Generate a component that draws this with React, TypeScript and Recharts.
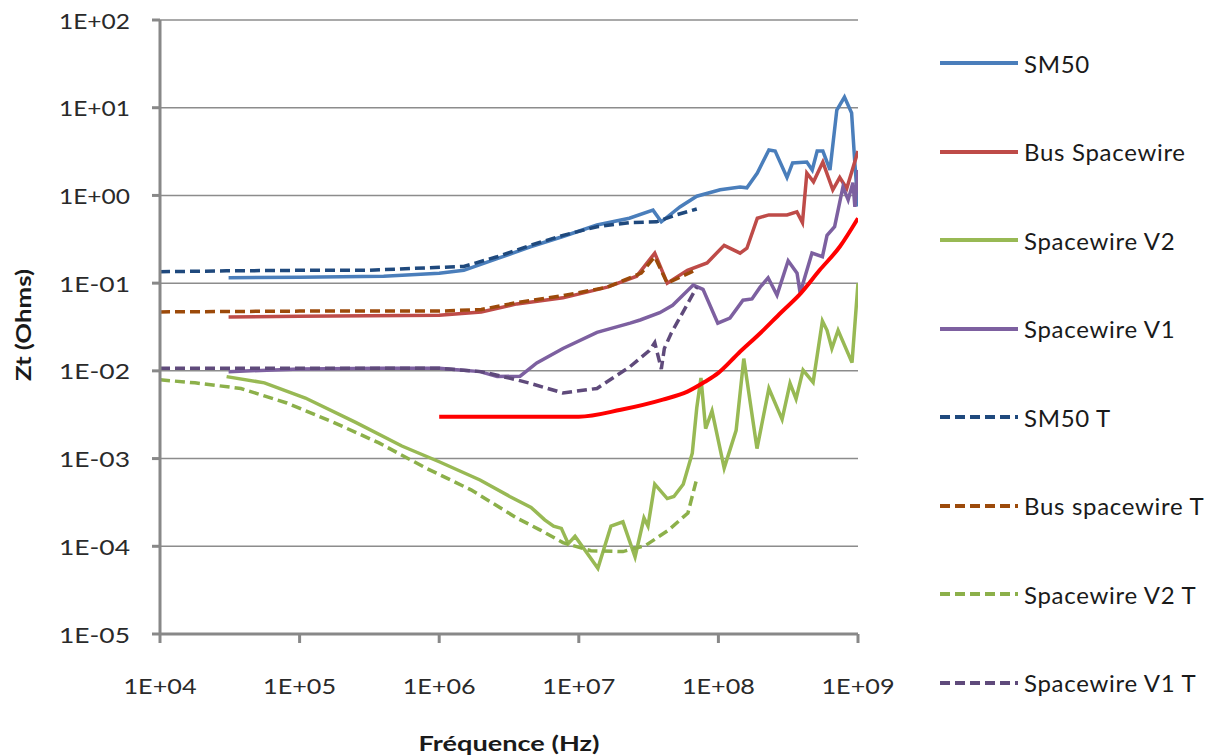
import React from 'react';
import { LineChart, Line, XAxis, YAxis, CartesianGrid, Legend, Label } from 'recharts';

// Frequency (Hz), Zt (Ohms) pairs
const SM50: [number, number][] = [
  [3.1e4, 0.115], [1e5, 0.117], [4e5, 0.12], [1e6, 0.13], [1.5e6, 0.14], [2.6e6, 0.19],
  [4.5e6, 0.26], [7.7e6, 0.34], [1.35e7, 0.46], [2.3e7, 0.55], [3.4e7, 0.68], [3.9e7, 0.5],
  [5.3e7, 0.74], [7e7, 0.98], [1.03e8, 1.16], [1.43e8, 1.25], [1.6e8, 1.22], [1.9e8, 1.8],
  [2.3e8, 3.3], [2.55e8, 3.2], [3.1e8, 1.6], [3.4e8, 2.35], [4.3e8, 2.4], [4.7e8, 1.95],
  [5.1e8, 3.2], [5.6e8, 3.2], [6.3e8, 1.95], [7.05e8, 9.4], [8e8, 13.2], [9e8, 8.7],
  [9.5e8, 2.3], [1e9, 0.75],
];
const BUS: [number, number][] = [
  [3.1e4, 0.041], [1e5, 0.042], [1e6, 0.043], [2e6, 0.047], [3.6e6, 0.058], [7.7e6, 0.068],
  [1.6e7, 0.09], [2.6e7, 0.12], [3.5e7, 0.22], [4.3e7, 0.1], [6e7, 0.14], [8.3e7, 0.17],
  [1.1e8, 0.27], [1.43e8, 0.22], [1.6e8, 0.25], [1.9e8, 0.55], [2.3e8, 0.6], [3.1e8, 0.6],
  [3.65e8, 0.65], [4e8, 0.49], [4.3e8, 1.8], [4.8e8, 1.43], [5.6e8, 2.4], [6.6e8, 1.16],
  [7.4e8, 1.6], [8.3e8, 1.2], [1e9, 3.2],
];
const V2: [number, number][] = [
  [3e4, 0.0086], [5.6e4, 0.0073], [1.1e5, 0.0049], [2.5e5, 0.0026], [5.4e5, 0.00139],
  [1e6, 0.00092], [1.96e6, 0.00057], [3.2e6, 0.00037], [4.55e6, 0.000278], [5.7e6, 0.0002],
  [6.6e6, 0.00017], [7.5e6, 0.00016], [8.4e6, 0.000107], [9.4e6, 0.00013], [1.37e7, 0.000056],
  [1.7e7, 0.00017], [2.07e7, 0.00019], [2.53e7, 0.0000755], [2.93e7, 0.00021], [3.13e7, 0.00017],
  [3.5e7, 0.00051], [4.3e7, 0.00035], [4.8e7, 0.00037], [5.6e7, 0.00051], [6.5e7, 0.00115],
  [7e7, 0.0038], [7.5e7, 0.0083], [8.1e7, 0.0022], [9e7, 0.0035], [1.1e8, 0.00078],
  [1.34e8, 0.0021], [1.52e8, 0.0138], [1.89e8, 0.0013], [2.3e8, 0.0063], [2.86e8, 0.0028],
  [3.26e8, 0.0072], [3.6e8, 0.0048], [4.04e8, 0.0102], [4.77e8, 0.0074], [5.56e8, 0.037],
  [6e8, 0.029], [6.5e8, 0.018], [7.2e8, 0.029], [9.06e8, 0.0124], [1e9, 0.1],
];
const V1: [number, number][] = [
  [3.1e4, 0.0098], [1e5, 0.0105], [4e5, 0.0107], [1e6, 0.0107], [1.96e6, 0.0098],
  [2.6e6, 0.0086], [3.8e6, 0.0087], [5e6, 0.0123], [7.7e6, 0.018], [1.35e7, 0.0275],
  [2.33e7, 0.035], [2.75e7, 0.038], [3.8e7, 0.046], [4.7e7, 0.056], [6.6e7, 0.095],
  [7.76e7, 0.085], [9.9e7, 0.035], [1.21e8, 0.04], [1.5e8, 0.064], [1.74e8, 0.066],
  [1.99e8, 0.09], [2.27e8, 0.115], [2.63e8, 0.073], [3.16e8, 0.18], [3.66e8, 0.13],
  [3.85e8, 0.077], [4.68e8, 0.22], [5.56e8, 0.2], [6e8, 0.35], [6.8e8, 0.44],
  [7.8e8, 1.25], [8.5e8, 0.89], [9.2e8, 1.4], [9.5e8, 0.74], [1e9, 1.95],
];
const SM50_T: [number, number][] = [
  [1e4, 0.135], [3e4, 0.138], [1e5, 0.14], [3e5, 0.14], [8.6e5, 0.15], [1.5e6, 0.155],
  [2.6e6, 0.2], [4.5e6, 0.27], [7.7e6, 0.35], [1.35e7, 0.44], [2.3e7, 0.49], [3.6e7, 0.5],
  [5e7, 0.6], [7e7, 0.7],
];
const BUS_T: [number, number][] = [
  [1e4, 0.047], [1e5, 0.048], [1e6, 0.048], [2e6, 0.05], [3.6e6, 0.06], [7.7e6, 0.072],
  [1.6e7, 0.09], [2.8e7, 0.13], [3.5e7, 0.2], [4.3e7, 0.1], [6.8e7, 0.14],
];
const V2_T: [number, number][] = [
  [1e4, 0.0079], [1.78e4, 0.0073], [3.8e4, 0.0063], [8.1e4, 0.0043], [1.74e5, 0.0026],
  [3.7e5, 0.00151], [7.9e5, 0.00079], [1.69e6, 0.00044], [3.6e6, 0.00021], [5.3e6, 0.000153],
  [7.7e6, 0.00011], [1.22e7, 0.000089], [2.07e7, 0.000087], [3e7, 0.000102], [4.4e7, 0.000153],
  [6.05e7, 0.00024], [7e7, 0.00059],
];
const V1_T: [number, number][] = [
  [1e4, 0.0107], [1e5, 0.0107], [1e6, 0.0107], [2e6, 0.0098], [3.6e6, 0.0079],
  [4.5e6, 0.0072], [7.7e6, 0.0056], [1.35e7, 0.0063], [2.3e7, 0.011], [3.2e7, 0.017],
  [3.5e7, 0.021], [3.9e7, 0.0105], [4.1e7, 0.018], [4.6e7, 0.027], [5.5e7, 0.045], [7e7, 0.09],
];
const LIMIT: [number, number][] = [
  [1e6, 0.003], [1e7, 0.003], [2e7, 0.0036], [4e7, 0.0047], [6e7, 0.0058], [8e7, 0.0075],
  [1e8, 0.0095], [1.4e8, 0.016], [2e8, 0.027], [2.8e8, 0.046], [3.9e8, 0.077], [5.3e8, 0.14],
  [7.4e8, 0.26], [1e9, 0.55],
];

const X_TICKS = [1e4, 1e5, 1e6, 1e7, 1e8, 1e9];
const Y_TICKS = [1e-5, 1e-4, 1e-3, 1e-2, 1e-1, 1, 10, 100];

const toRows = (pairs: [number, number][]) => pairs.map(([f, z]) => ({ f, z }));

const SERIES = [
  { name: 'SM50', data: SM50, color: '#4A7EBB', dash: undefined as string | undefined },
  { name: 'Bus Spacewire', data: BUS, color: '#BE4B48', dash: undefined },
  { name: 'Spacewire V2', data: V2, color: '#98B954', dash: undefined },
  { name: 'Spacewire V1', data: V1, color: '#7D60A0', dash: undefined },
  { name: 'SM50 T', data: SM50_T, color: '#1F497D', dash: '10 5' },
  { name: 'Bus spacewire T', data: BUS_T, color: '#9C4A0A', dash: '10 5' },
  { name: 'Spacewire V2 T', data: V2_T, color: '#8CB04A', dash: '10 5' },
  { name: 'Spacewire V1 T', data: V1_T, color: '#5F4A7B', dash: '10 5' },
];

const FONT = 'Lato, "Open Sans", sans-serif';

const fmt = (v: number) => {
  const e = Math.round(Math.log10(v));
  return `1E${e < 0 ? '-' : '+'}${String(Math.abs(e)).padStart(2, '0')}`;
};

const YTick = (props: any) => (
  <text x={props.x} y={props.y} textAnchor="end" dominantBaseline="central" fontSize={21}
    fontFamily={FONT} fill="#2a2a2a" textLength={71} lengthAdjust="spacingAndGlyphs">
    {fmt(props.payload.value)}
  </text>
);
const XTick = (props: any) => (
  <text x={props.x} y={props.y} textAnchor="middle" dominantBaseline="central" fontSize={21}
    fontFamily={FONT} fill="#2a2a2a" textLength={73} lengthAdjust="spacingAndGlyphs">
    {fmt(props.payload.value)}
  </text>
);

const YTitle = (props: any) => {
  const vb = props.viewBox;
  const x = vb.x + 22;
  const y = vb.y + vb.height / 2 - 2;
  return (
    <text x={x} y={y} transform={`rotate(-90, ${x}, ${y})`} textAnchor="middle" dominantBaseline="central"
      fontSize={21} fontWeight="bold" fontFamily={FONT} fill="#1a1a1a" textLength={112} lengthAdjust="spacingAndGlyphs">
      Zt (Ohms)
    </text>
  );
};
const XTitle = (props: any) => {
  const vb = props.viewBox;
  return (
    <text x={vb.x + vb.width / 2} y={vb.y + 109} textAnchor="middle" dominantBaseline="central"
      fontSize={20} fontWeight="bold" fontFamily={FONT} fill="#1a1a1a" textLength={181} lengthAdjust="spacingAndGlyphs">
      Fréquence (Hz)
    </text>
  );
};

const LegendContent = () => (
  <div style={{ fontFamily: FONT }}>
    {SERIES.map((s) => (
      <div key={s.name} style={{ height: 88.5, display: 'flex', alignItems: 'center' }}>
        <svg width={80} height={10} style={{ display: 'block' }}>
          <line x1={1} y1={5} x2={79} y2={5} stroke={s.color} strokeWidth={4}
            strokeDasharray={s.dash} strokeLinecap="butt" />
        </svg>
        <span style={{ marginLeft: 5, fontSize: 24, color: '#1a1a1a', whiteSpace: 'nowrap', letterSpacing: 0.7 }}>{s.name}</span>
      </div>
    ))}
  </div>
);

export default function App() {
  return (
    <div style={{ position: 'absolute', left: 0, top: 0, width: 1212, height: 755, background: '#fff' }}>
      <LineChart width={1212} height={755} margin={{ top: 20, right: 354, bottom: 0, left: 0 }}>
        <CartesianGrid vertical={false} stroke="#8c8c8c" strokeWidth={1.5} />
        <XAxis dataKey="f" type="number" scale="log" domain={[1e4, 1e9]} ticks={X_TICKS} interval={0}
          allowDataOverflow height={121} tickSize={9} tickMargin={42} tick={<XTick />}
          axisLine={{ stroke: '#888888', strokeWidth: 3 }} tickLine={{ stroke: '#888888', strokeWidth: 3 }}>
          <Label content={<XTitle />} />
        </XAxis>
        <YAxis type="number" scale="log" domain={[1e-5, 1e2]} ticks={Y_TICKS} interval={0}
          allowDataOverflow width={160} tickSize={8} tickMargin={22} tick={<YTick />}
          axisLine={{ stroke: '#888888', strokeWidth: 3 }} tickLine={{ stroke: '#888888', strokeWidth: 3 }}>
          <Label content={<YTitle />} />
        </YAxis>
        <Legend layout="vertical" align="center" verticalAlign="middle" content={<LegendContent />}
          wrapperStyle={{ position: 'absolute', left: 939, top: 19, width: 273 }} />
        {SERIES.slice(0, 4).map((s) => (
          <Line key={s.name} name={s.name} data={toRows(s.data)} dataKey="z" type="linear"
            stroke={s.color} strokeWidth={3.5} dot={false} isAnimationActive={false} />
        ))}
        <Line name="Limite" data={toRows(LIMIT)} dataKey="z" type="monotone" stroke="#FF0000"
          strokeWidth={4} dot={false} isAnimationActive={false} legendType="none" />
        {SERIES.slice(4).map((s) => (
          <Line key={s.name} name={s.name} data={toRows(s.data)} dataKey="z" type="linear"
            stroke={s.color} strokeWidth={3.5} strokeDasharray={s.dash} dot={false} isAnimationActive={false} />
        ))}
      </LineChart>
    </div>
  );
}
